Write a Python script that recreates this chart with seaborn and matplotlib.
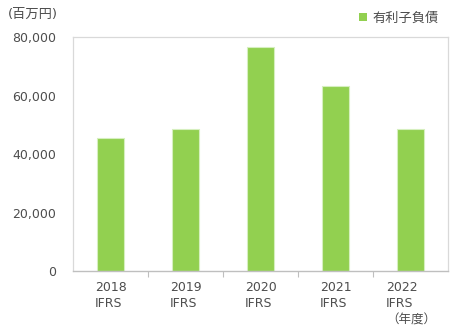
import matplotlib
matplotlib.use("Agg")
import matplotlib.pyplot as plt
from matplotlib.ticker import FuncFormatter, FixedLocator
from matplotlib.patches import Patch
import seaborn as sns
import pandas as pd

# Interest-bearing debt by fiscal year (millions of yen)
years = ["2018", "2019", "2020", "2021", "2022"]
basis = ["IFRS", "IFRS", "IFRS", "IFRS", "IFRS\n（年度）"]
debt = [45500, 48500, 76800, 63400, 48600]
series_name = "有利子負債"
unit_label = "(百万円)"
y_ticks = [0, 20000, 40000, 60000, 80000]

bar_color = "#92d050"
text_color = "#4d4d4d"
frame_color = "#d9d9d9"

sns.set_theme(style="white")
plt.rcParams["font.family"] = ["DejaVu Sans", "Noto Sans CJK JP"]

df = pd.DataFrame({"year": years, "debt": debt})

fig = plt.figure(figsize=(4.55, 3.3), dpi=100)
ax = fig.add_axes([0.1604, 0.1788, 0.8253, 0.7076])

sns.barplot(data=df, x="year", y="debt", color=bar_color, width=0.36,
            edgecolor="#d6efbf", linewidth=0.8, saturation=1, ax=ax)

ax.set_xlim(-0.5, len(years) - 0.5)
ax.set_ylim(0, 80000)
ax.set_yticks(y_ticks)
ax.yaxis.set_major_formatter(FuncFormatter(lambda v, _: f"{int(v):,}"))
ax.set_xlabel("")
ax.set_ylabel("")

labels = [f"{y}\n{b}" for y, b in zip(years, basis)]
ax.set_xticks(range(len(years)))
ax.set_xticklabels(labels, multialignment="left", linespacing=1.35)
ax.xaxis.set_minor_locator(FixedLocator([i + 0.5 for i in range(len(years) - 1)]))

ax.tick_params(axis="x", which="major", length=0, pad=7, labelsize=9, colors=text_color)
ax.tick_params(axis="x", which="minor", length=4, width=0.8, color="#bfbfbf", bottom=True)
ax.tick_params(axis="y", length=0, pad=12, labelsize=9, colors=text_color)

for side in ["top", "left", "right"]:
    ax.spines[side].set_visible(True)
    ax.spines[side].set_color(frame_color)
    ax.spines[side].set_linewidth(0.9)
ax.spines["bottom"].set_color("#bfbfbf")
ax.spines["bottom"].set_linewidth(1.0)
ax.grid(False)

fig.text(0.018, 0.955, unit_label, fontsize=9.5, color=text_color, va="center", ha="left")

handle = Patch(facecolor=bar_color, edgecolor="none")
fig.legend([handle], [series_name], loc="center right", bbox_to_anchor=(0.975, 0.945),
           frameon=False, fontsize=9.5, handlelength=0.65, handleheight=0.65,
           handletextpad=0.35, borderaxespad=0, labelcolor=text_color)

fig.savefig("out.png", dpi=100)
